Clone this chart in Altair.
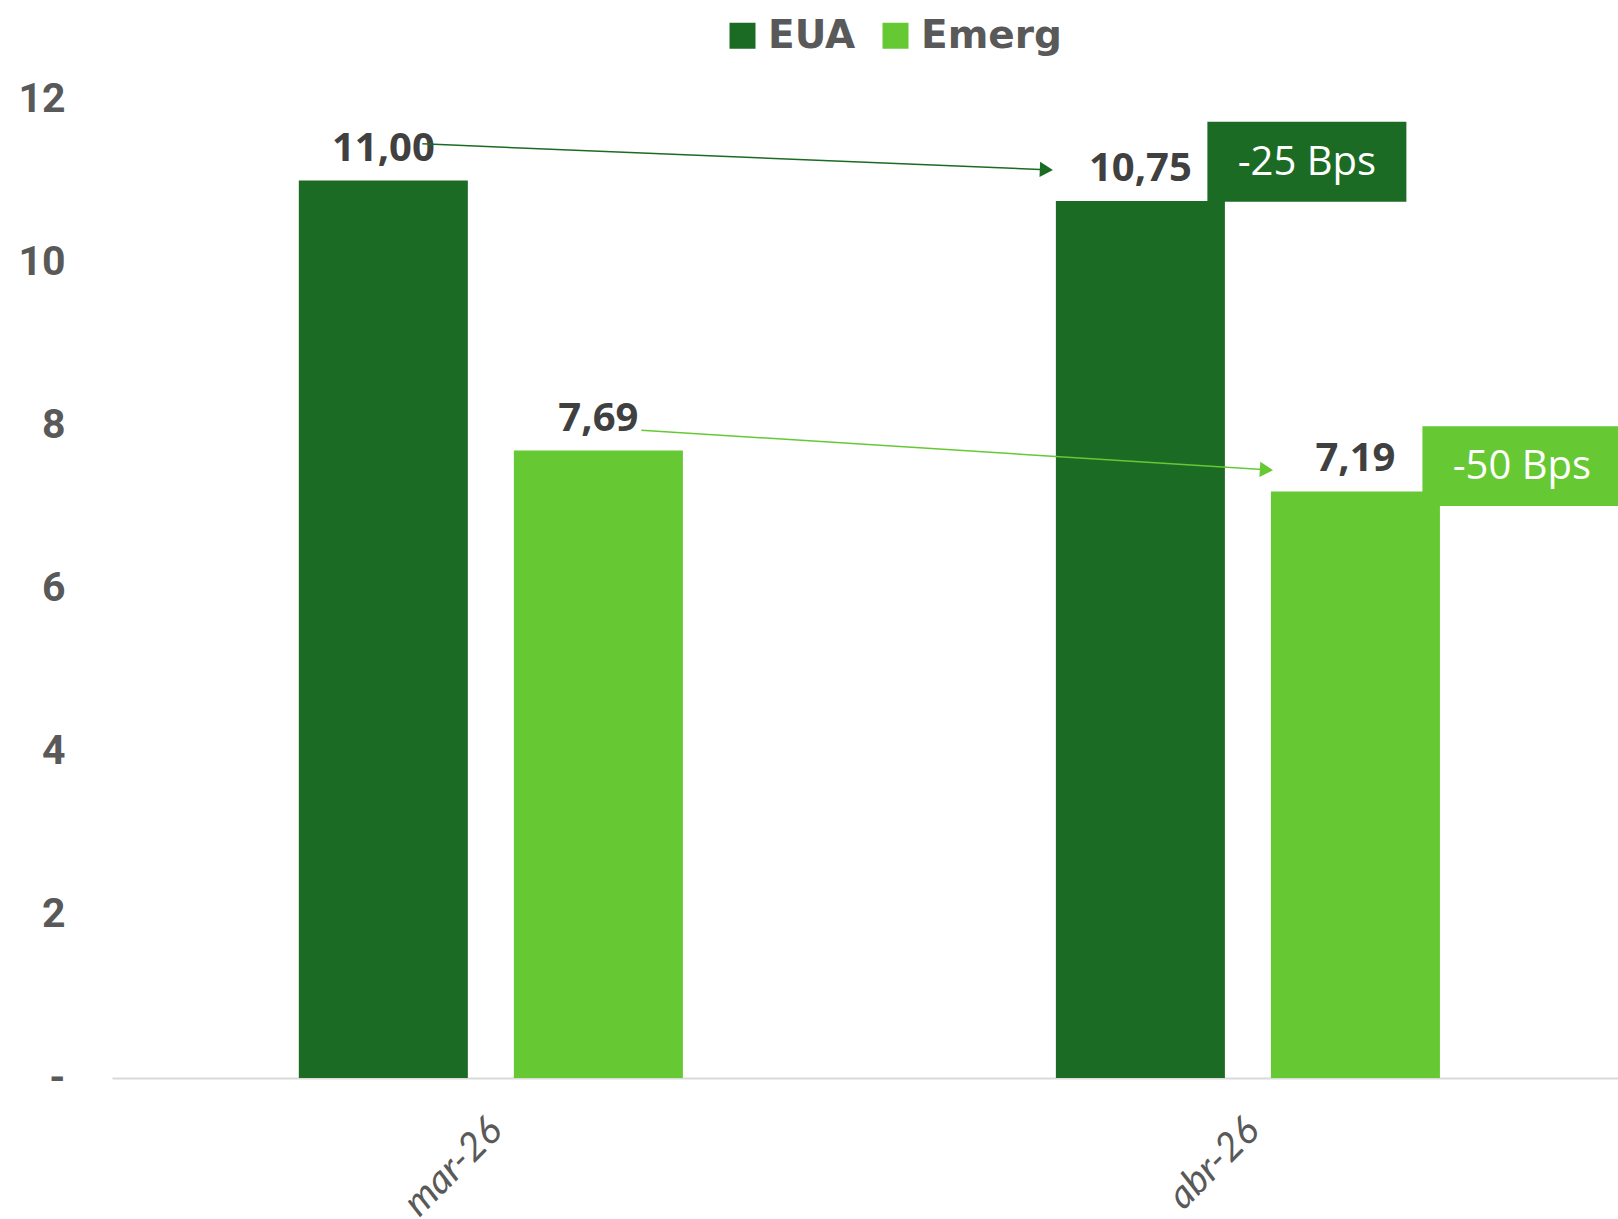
import math
import altair as alt
import pandas as pd

# ---------------- data ----------------
categories = ["mar-26", "abr-26"]
series = ["EUA", "Emerg"]
eua_values = [11.00, 10.75]
emerg_values = [7.69, 7.19]
y_ticks = [0, 2, 4, 6, 8, 10, 12]

COLORS = ["#1B6B24", "#66C933"]
GRAY = "#595959"
DARK = "#404040"

# ---------------- layout ----------------
W, H = 1506, 979
Y_MAX = 12
PI_X, PO_X, ALIGN_X = 0.4927, 0.241, 0.512
PI_O = 0.214

n = len(categories)
STEP = W / (n - PI_X + 2 * PO_X)
BAND = STEP * (1 - PI_X)
START0 = (W - STEP * (n - PI_X)) * ALIGN_X
OSTEP = BAND / (len(series) - PI_O)
PX_PER_UNIT = H / Y_MAX


def bar_center(i, j):
    return START0 + i * STEP + j * OSTEP + OSTEP * (1 - PI_O) / 2


values_by_series = [eua_values, emerg_values]
rows = []
for i, c in enumerate(categories):
    for j, s in enumerate(series):
        v = values_by_series[j][i]
        rows.append(dict(cat=c, series=s, value=v, label=f"{v:.2f}".replace(".", ",")))
df = pd.DataFrame(rows)

x_axis = alt.Axis(
    title=None,
    domain=True,
    domainColor="#D9D9D9",
    domainWidth=2,
    ticks=False,
    grid=False,
    labelAngle=-45,
    labelAlign="right",
    labelBaseline="middle",
    labelPadding=46,
    labelOffset=5,
    labelFont="Lato",
    labelFontStyle="italic",
    labelFontSize=39,
    labelColor=GRAY,
)
y_axis = alt.Axis(
    title=None,
    values=y_ticks,
    domain=False,
    ticks=False,
    grid=False,
    labelPadding=47,
    labelFont="Roboto",
    labelFontWeight="bold",
    labelFontSize=41,
    labelColor=GRAY,
    labelExpr="datum.value == 0 ? '-' : format(datum.value, 'd')",
)
x_scale = alt.Scale(paddingInner=PI_X, paddingOuter=PO_X, align=ALIGN_X)
y_scale = alt.Scale(domain=[0, Y_MAX], nice=False)

x_enc = alt.X("cat:N", sort=categories, scale=x_scale, axis=x_axis, title=None)
xoff_enc = alt.XOffset("series:N", sort=series, scale=alt.Scale(paddingInner=PI_O, paddingOuter=0))


def yq(field):
    return alt.Y(field, type="quantitative", scale=y_scale, axis=y_axis, title=None)


bars = alt.Chart(df).mark_bar().encode(
    x=x_enc,
    xOffset=xoff_enc,
    y=yq("value"),
    color=alt.Color(
        "series:N",
        sort=series,
        scale=alt.Scale(domain=series, range=COLORS),
        legend=alt.Legend(
            title=None,
            orient="none",
            direction="horizontal",
            legendX=611,
            legendY=-83,
            padding=0,
            symbolType="square",
            symbolSize=676,
            symbolStrokeWidth=0,
            labelFont="DejaVu Sans",
            labelFontWeight="bold",
            labelFontSize=39,
            labelColor=GRAY,
            labelOffset=6,
            columnPadding=20,
        ),
    ),
)

labels = alt.Chart(df).mark_text(
    dy=-20, baseline="alphabetic", align="center",
    font="Open Sans", fontWeight="bold", fontSize=40, color=DARK,
).encode(x=x_enc, xOffset=xoff_enc, y=yq("value"), text="label:N")

main = alt.layer(bars, labels)

# ---------------- annotations (arrows and change boxes) ----------------
start_dx = [39, 43]
start_dy = [0.45, 0.25]
tip_dx = [-87, -82]
tip_dy = [0.38, 0.26]
box_dx = [67, 266]
box_mid_dy = [0.48, 0.31]
box_half = 0.49

xa = alt.Scale(domain=[0, W], nice=False, zero=False)
ann_layers = []
for j, s in enumerate(series):
    v0, v1 = values_by_series[j][0], values_by_series[j][-1]
    x0 = bar_center(0, j) + start_dx[j]
    y0 = v0 + start_dy[j]
    xt = bar_center(n - 1, j) + tip_dx[j]
    yt = v1 + tip_dy[j]
    ang = math.degrees(math.atan2((y0 - yt) * PX_PER_UNIT, xt - x0))
    back = 7
    xc = xt - back * math.cos(math.radians(ang))
    yc = yt + back * math.sin(math.radians(ang)) / PX_PER_UNIT
    bx1 = bar_center(n - 1, j) + box_dx[0]
    bx2 = bar_center(n - 1, j) + box_dx[1]
    bm = v1 + box_mid_dy[j]
    bps = round((v1 - v0) * 100)
    a = pd.DataFrame([dict(x0=x0, y0=y0, xc=xc, yc=yc, bx1=bx1, bx2=bx2,
                           by1=bm - box_half, by2=bm + box_half,
                           tx=(bx1 + bx2) / 2, ty=bm, txt=f"{bps} Bps")])
    col = COLORS[j]
    rule = alt.Chart(a).mark_rule(color=col, strokeWidth=1.5).encode(
        x=alt.X("x0:Q", scale=xa, axis=None), x2="xc:Q", y=yq("y0"), y2="yc:Q")
    head = alt.Chart(a).mark_point(shape="triangle-right", filled=True, size=230, opacity=1,
                                   color=col, angle=abs(ang)).encode(
        x=alt.X("xc:Q", scale=xa, axis=None), y=yq("yc"))
    box = alt.Chart(a).mark_rect(color=col).encode(
        x=alt.X("bx1:Q", scale=xa, axis=None), x2="bx2:Q", y=yq("by1"), y2="by2:Q")
    btxt = alt.Chart(a).mark_text(color="white", font="Open Sans", fontSize=40,
                                  align="center", baseline="middle", dy=1).encode(
        x=alt.X("tx:Q", scale=xa, axis=None), y=yq("ty"), text="txt:N")
    ann_layers += [rule, head, box, btxt]

ann = alt.layer(*ann_layers)

chart = (
    alt.layer(main, ann)
    .resolve_scale(x="independent")
    .properties(
        width=W,
        height=H,
        autosize=alt.AutoSizeParams(type="none"),
        padding={"left": 112, "top": 99, "right": 0, "bottom": 141},
        background="white",
    )
    .configure_view(stroke=None)
)

chart.save("out.html", embed_options={"renderer": "svg", "actions": False})
